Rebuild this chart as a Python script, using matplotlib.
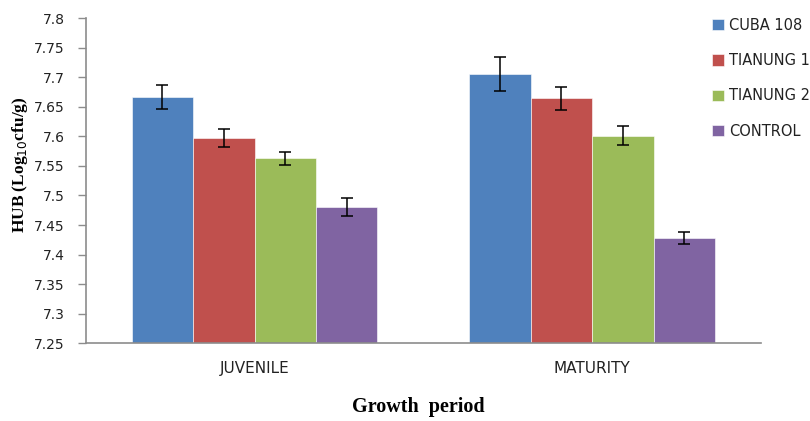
import numpy as np
import matplotlib.pyplot as plt

# growth periods and treatments
periods = ['JUVENILE', 'MATURITY']
treatments = ['CUBA 108', 'TIANUNG 1', 'TIANUNG 2', 'CONTROL']
colors = ['#4F81BD', '#C0504D', '#9BBB59', '#8064A2']

# mean HUB counts (log10 cfu/g), one list per treatment: [juvenile, maturity]
cuba108 = [7.667, 7.705]
tianung1 = [7.597, 7.664]
tianung2 = [7.563, 7.601]
control = [7.480, 7.428]

# standard errors
cuba108_err = [0.020, 0.029]
tianung1_err = [0.015, 0.020]
tianung2_err = [0.011, 0.016]
control_err = [0.015, 0.010]

values = [cuba108, tianung1, tianung2, control]
errors = [cuba108_err, tianung1_err, tianung2_err, control_err]

fig = plt.figure(figsize=(8.1, 4.21), dpi=100)
ax = fig.add_axes([0.1058, 0.1846, 0.8337, 0.7726])

x = np.arange(len(periods))
width = 0.727 / 4
for i in range(4):
    pos = x - 0.727 / 2 + width * (i + 0.5)
    ax.bar(pos, np.array(values[i]) - 7.25, width, bottom=7.25, color=colors[i],
           edgecolor='white', linewidth=0.4, label=treatments[i], zorder=2)
    ax.errorbar(pos, values[i], yerr=errors[i], fmt='none', ecolor='black',
                elinewidth=1.1, capsize=4, capthick=1.1, zorder=3)

ax.set_xlim(-0.5, 1.5)
ax.set_ylim(7.25, 7.8)
ticks = np.arange(7.25, 7.81, 0.05)
ax.set_yticks(ticks)
ax.set_yticklabels(['%g' % round(v, 2) for v in ticks])
ax.set_xticks(x)
ax.set_xticklabels(periods)

for s in ['top', 'right']:
    ax.spines[s].set_visible(False)
for s in ['left', 'bottom']:
    ax.spines[s].set_color('#8C8C8C')
    ax.spines[s].set_linewidth(1.2)
ax.tick_params(axis='y', direction='out', length=6, color='#8C8C8C', width=1,
               labelsize=10, labelcolor='#222222', pad=9)
ax.tick_params(axis='x', length=0, labelsize=11, labelcolor='#222222', pad=13)

ax.set_ylabel('HUB (Log$_{10}$cfu/g)', family='Liberation Serif', fontweight='bold',
              fontsize=12.5)
ax.set_xlabel('Growth  period', family='Liberation Serif', fontweight='bold',
              fontsize=14.5)
ax.yaxis.set_label_coords(-0.082, 0.55)
ax.xaxis.set_label_coords(0.492, -0.165)

leg = fig.legend(loc='upper left', bbox_to_anchor=(0.8717, 0.972), frameon=False,
                 fontsize=10.5, handlelength=0.82, handleheight=0.82, handletextpad=0.35,
                 labelspacing=1.4, borderaxespad=0)
for t in leg.get_texts():
    t.set_color('#222222')

fig.savefig('out.png', dpi=100)
